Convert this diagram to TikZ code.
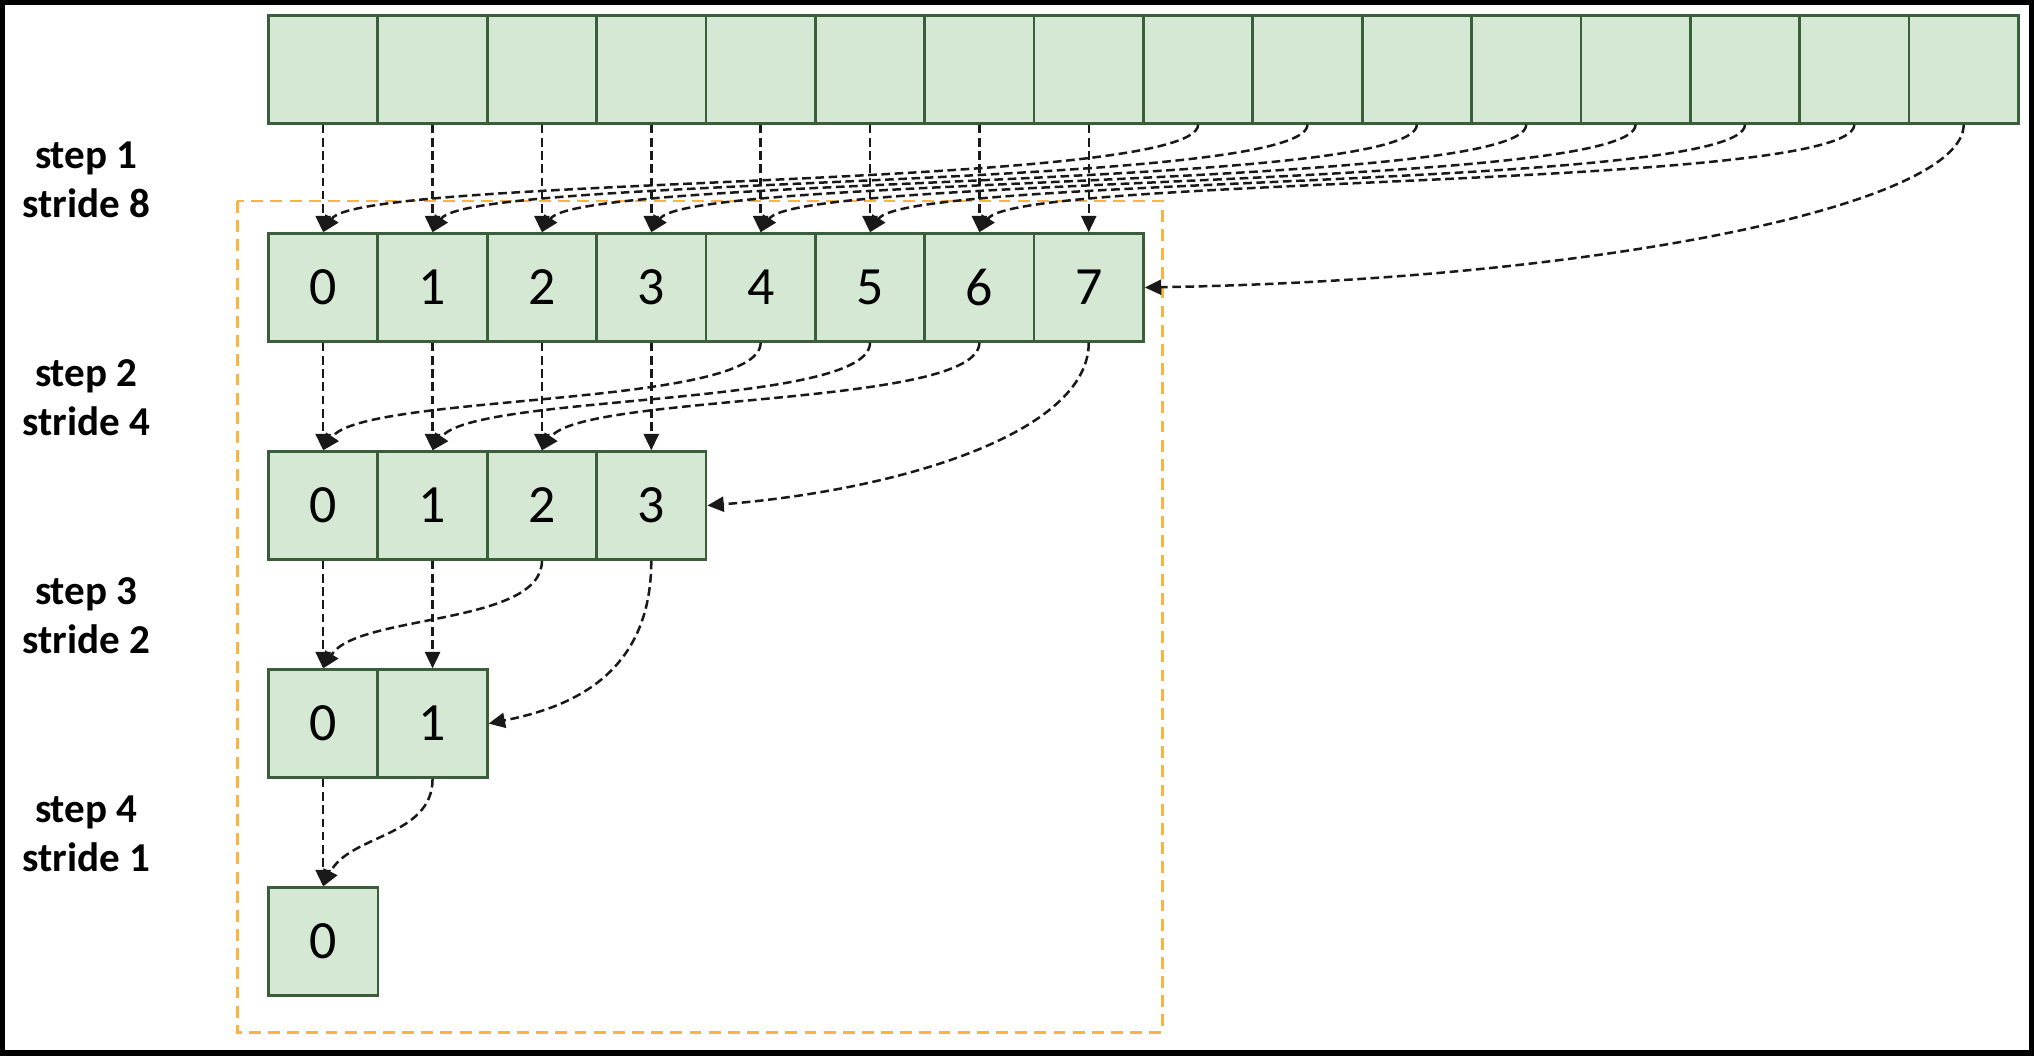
\documentclass[tikz,border=0pt]{standalone}
\usepackage{fontspec}
\setmainfont{Carlito}
\usetikzlibrary{arrows.meta}
\definecolor{cellfill}{RGB}{213,232,212}
\definecolor{cellline}{RGB}{58,94,58}
\definecolor{boxorange}{RGB}{252,180,64}
\begin{document}
\begin{tikzpicture}[x=0.01cm,y=-0.01cm,
  cell/.style={draw=cellline, fill=cellfill, line width=0.6pt, minimum width=0.843cm, minimum height=0.83cm, inner sep=0pt, font=\fontsize{11.8}{13}\selectfont},
  lab/.style={font=\fontsize{9}{10.8}\selectfont\bfseries, inner sep=0pt, anchor=base},
  conn/.style={draw=black!90, line width=0.55pt, dash pattern=on 1.9pt off 1pt, -{Triangle[length=3.6pt,width=3.3pt]}},
  outerframe/.style={draw=black, line width=1.2pt},
  groupbox/.style={draw=boxorange, line width=0.6pt, dash pattern=on 2.6pt off 1.6pt}]
\useasboundingbox (0,0) rectangle (1568,814);
\draw[outerframe] (2.1,2.1) rectangle (1565.9,811.9);
\draw[groupbox] (183,155) rectangle (896,796);

% labels
\node[lab] (l1a) at (66.5,129.5) {step 1};
\node[lab] (l1b) at (66.5,167.5) {stride 8};
\node[lab] (l2a) at (66.5,297.6) {step 2};
\node[lab] (l2b) at (66.5,335.6) {stride 4};
\node[lab] (l3a) at (66.5,465.7) {step 3};
\node[lab] (l3b) at (66.5,503.7) {stride 2};
\node[lab] (l4a) at (66.5,633.8) {step 4};
\node[lab] (l4b) at (66.5,671.8) {stride 1};

% cells
\foreach \i in {0,...,15} \node[cell] (t\i) at ({249.15+84.31*\i},53.5) {};
\foreach \i in {0,...,7} \node[cell] (a\i) at ({249.15+84.31*\i},221.6) {\i};
\foreach \i in {0,...,3} \node[cell] (b\i) at ({249.15+84.31*\i},389.7) {\i};
\foreach \i in {0,...,1} \node[cell] (c\i) at ({249.15+84.31*\i},557.8) {\i};
\node[cell] (d0) at (249.15,725.9) {0};

% step 1
\foreach \i in {0,...,7} \draw[conn] (t\i.south) -- (a\i.north);
\foreach \i in {0,...,6} {
  \pgfmathtruncatemacro{\j}{\i+8}
  \draw[conn] (t\j.south) .. controls +(0,50) and +(28,-44) .. (a\i.north);
}
\draw[conn] (t15.south) .. controls +(0,62) and +(350,-6) .. (a7.east);

% step 2
\foreach \i in {0,...,3} \draw[conn] (a\i.south) -- (b\i.north);
\foreach \i in {0,...,2} {
  \pgfmathtruncatemacro{\j}{\i+4}
  \draw[conn] (a\j.south) .. controls +(0,50) and +(30,-44) .. (b\i.north);
}
\draw[conn] (a7.south) .. controls +(0,69) and +(150,-12) .. (b3.east);

% step 3
\foreach \i in {0,...,1} \draw[conn] (b\i.south) -- (c\i.north);
\draw[conn] (b2.south) .. controls +(0,50) and +(26,-42) .. (c0.north);
\draw[conn] (b3.south) .. controls +(0,90) and +(60,-12) .. (c1.east);

% step 4
\draw[conn] (c0.south) -- (d0.north);
\draw[conn] (c1.south) .. controls +(0,45) and +(20,-40) .. (d0.north);
\end{tikzpicture}
\end{document}
